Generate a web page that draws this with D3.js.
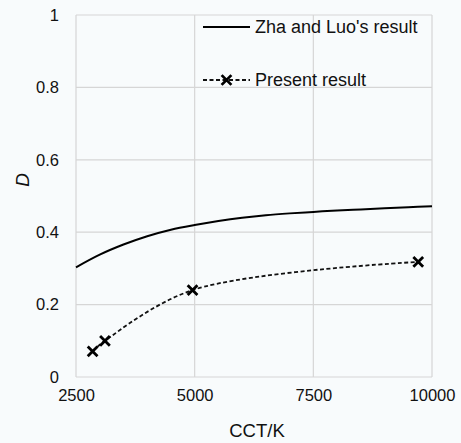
<!DOCTYPE html>
<html><head><meta charset="utf-8">
<script src="https://cdn.jsdelivr.net/npm/d3@7"></script>
<style>
html,body{margin:0;padding:0;background:#f8fbfc;}
svg{display:block;font-family:"Liberation Sans",Arial,sans-serif;}
</style></head>
<body>
<svg id="chart" width="461" height="443"></svg>
<script>
const xTicks = [2500, 5000, 7500, 10000];
const yTicks = [0, 0.2, 0.4, 0.6, 0.8, 1];
const zhaCCT = [2500, 3000, 3500, 4000, 4500, 5000, 5500, 6000, 6500, 7000, 7500, 8000, 8500, 9000, 9500, 10000];
const zhaD   = [0.303, 0.338, 0.366, 0.389, 0.407, 0.420, 0.431, 0.440, 0.447, 0.452, 0.456, 0.460, 0.463, 0.466, 0.469, 0.472];
const presCCT = [2850, 3110, 4955, 9710];
const presD   = [0.071, 0.100, 0.240, 0.318];
const seriesNames = ["Zha and Luo's result", "Present result"];

const svg = d3.select("#chart");
const m = {left: 76, right: 432, top: 15, bottom: 377};
const x = d3.scaleLinear().domain([2500, 10000]).range([m.left, m.right]);
const y = d3.scaleLinear().domain([0, 1]).range([m.bottom, m.top]);
const grid = "#d6d6d6";
const ff = "Liberation Sans, Arial, sans-serif";

// gridlines
svg.append("g").selectAll("line").data(yTicks).join("line")
  .attr("x1", m.left).attr("x2", m.right)
  .attr("y1", d => y(d)).attr("y2", d => y(d))
  .attr("stroke", grid).attr("stroke-width", 1.2);
svg.append("g").selectAll("line").data(xTicks).join("line")
  .attr("y1", m.top).attr("y2", m.bottom)
  .attr("x1", d => x(d)).attr("x2", d => x(d))
  .attr("stroke", grid).attr("stroke-width", 1.2);

// axes (labels only)
const yAxis = d3.axisLeft(y).tickValues(yTicks).tickSize(0).tickPadding(17)
  .tickFormat(d => d3.format("")(+d.toFixed(1)));
const gy = svg.append("g").attr("transform", `translate(${m.left},0)`).call(yAxis);
gy.select(".domain").remove();
gy.selectAll("text").attr("font-size", 16.5).attr("fill", "#111").attr("font-family", ff);

const xAxis = d3.axisBottom(x).tickValues(xTicks).tickSize(0).tickPadding(12).tickFormat(d3.format("d"));
const gx = svg.append("g").attr("transform", `translate(0,${m.bottom})`).call(xAxis);
gx.select(".domain").remove();
gx.selectAll("text").attr("font-size", 16.5).attr("fill", "#111").attr("font-family", ff);

// axis titles
svg.append("text").attr("x", (m.left + m.right) / 2 + 3).attr("y", 437)
  .attr("text-anchor", "middle").attr("font-size", 18.5).attr("fill", "#111").text("CCT/K");
svg.append("text").attr("transform", "translate(29,180) rotate(-90)")
  .attr("text-anchor", "middle").attr("font-size", 19).attr("font-style", "italic").attr("fill", "#111").text("D");

// Zha line
const zha = zhaCCT.map((c, i) => [c, zhaD[i]]);
svg.append("path").datum(zha)
  .attr("d", d3.line().x(d => x(d[0])).y(d => y(d[1])).curve(d3.curveCatmullRom.alpha(0.5)))
  .attr("fill", "none").attr("stroke", "#000").attr("stroke-width", 2);

// Present line
const pres = presCCT.map((c, i) => [c, presD[i]]);
svg.append("path").datum(pres)
  .attr("d", d3.line().x(d => x(d[0])).y(d => y(d[1])).curve(d3.curveCatmullRom.alpha(0.5)))
  .attr("fill", "none").attr("stroke", "#111").attr("stroke-width", 1.8).attr("stroke-dasharray", "4,2.5");

const cross = d3.symbol().type(d3.symbolX).size(64);
svg.append("g").selectAll("path").data(pres).join("path")
  .attr("transform", d => `translate(${x(d[0])},${y(d[1])})`)
  .attr("d", cross).attr("fill", "none").attr("stroke", "#000").attr("stroke-width", 2.8);

// legend
const lg = svg.append("g");
lg.append("line").attr("x1", 203).attr("x2", 250).attr("y1", 27).attr("y2", 27)
  .attr("stroke", "#000").attr("stroke-width", 2);
lg.append("text").attr("x", 255).attr("y", 33).attr("font-size", 18).attr("fill", "#111").text(seriesNames[0]);
lg.append("line").attr("x1", 203).attr("x2", 250).attr("y1", 80).attr("y2", 80)
  .attr("stroke", "#111").attr("stroke-width", 1.8).attr("stroke-dasharray", "4,2.5");
lg.append("path").attr("transform", "translate(226.5,80)").attr("d", cross)
  .attr("fill", "none").attr("stroke", "#000").attr("stroke-width", 2.8);
lg.append("text").attr("x", 255).attr("y", 86).attr("font-size", 18).attr("fill", "#111").text(seriesNames[1]);
</script>
</body></html>
